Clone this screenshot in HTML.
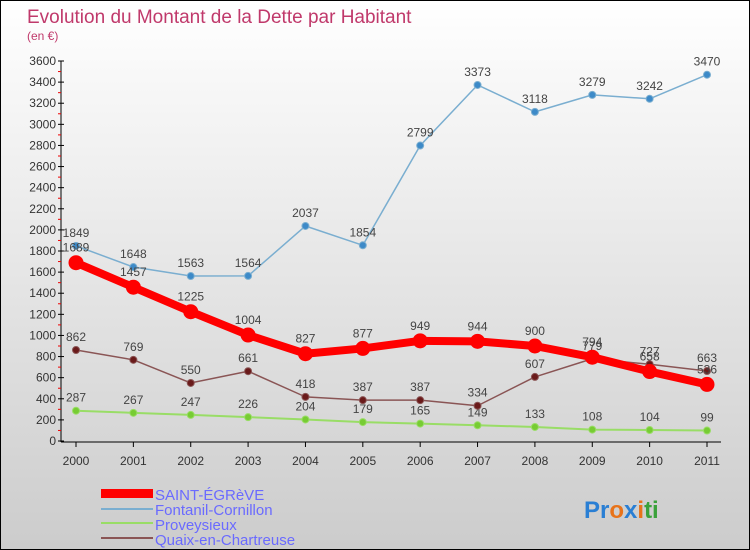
<!DOCTYPE html>
<html><head><meta charset="utf-8"><style>
body{margin:0}
#c{width:750px;height:550px;position:relative;box-sizing:border-box;border:1px solid #000;background:linear-gradient(#fff,#ccc);overflow:hidden;font-family:"Liberation Sans",sans-serif}
</style></head><body>
<div id="c">
<svg id="s" width="748" height="548" style="position:absolute;left:0;top:0">
<text x="26" y="22" font-size="19" fill="#c0396b">Evolution du Montant de la Dette par Habitant</text>
<text x="26" y="39" font-size="12" fill="#c0396b">(en €)</text>
<g id="axes"></g><g id="series"></g>
<g font-size="15" fill="#6a6aff">
<rect x="100" y="488" width="52" height="9" fill="#f00"/>
<text x="154" y="499">SAINT-ÉGRèVE</text>
<rect x="100" y="507" width="52" height="2" fill="#7aaed0"/>
<text x="154" y="514">Fontanil-Cornillon</text>
<rect x="100" y="521" width="52" height="2" fill="#99dd66"/>
<text x="154" y="529">Proveysieux</text>
<rect x="100" y="536" width="52" height="2" fill="#8a5555"/>
<text x="154" y="544">Quaix-en-Chartreuse</text>
</g>
<text x="583" y="517" font-size="24" font-weight="bold"><tspan fill="#2a7fd4">Pr</tspan><tspan fill="#e8731a">o</tspan><tspan fill="#2a7fd4">x</tspan><tspan fill="#e8731a">i</tspan><tspan fill="#3aa13a">ti</tspan></text>
</svg>
</div>
<script>
const years=["2000","2001","2002","2003","2004","2005","2006","2007","2008","2009","2010","2011"];
const yTicks=[0,200,400,600,800,1000,1200,1400,1600,1800,2000,2200,2400,2600,2800,3000,3200,3400,3600];
const saint=[1689,1457,1225,1004,827,877,949,944,900,794,658,536];
const fontanil=[1849,1648,1563,1564,2037,1854,2799,3373,3118,3279,3242,3470];
const provey=[287,267,247,226,204,179,165,149,133,108,104,99];
const quaix=[862,769,550,661,418,387,387,334,607,779,727,663];
const NS="http://www.w3.org/2000/svg";
const X=i=>75+i*(631/11), Y=v=>440-v*(380/3600);
function mk(t,a,p){const e=document.createElementNS(NS,t);for(const k in a)e.setAttribute(k,a[k]);p.appendChild(e);return e;}
const ax=document.getElementById('axes'), sg=document.getElementById('series');
let l=mk('line',{x1:60,y1:60,x2:60,y2:441,stroke:'#000'},ax);


l=mk('line',{x1:60,y1:441,x2:720,y2:441,stroke:'#000'},ax);


yTicks.forEach((v,i)=>{
 mk('line',{x1:57,y1:Y(v),x2:63,y2:Y(v),stroke:'#000'},ax);
 if(i<yTicks.length-1) mk('line',{x1:57,y1:Y(v+100),x2:60,y2:Y(v+100),stroke:'#e00'},ax);
 const t=mk('text',{x:55,y:Y(v)+4,'font-size':12,'text-anchor':'end',fill:'#333'},ax);t.textContent=v;
 
 
});
years.forEach((y,i)=>{
 mk('line',{x1:X(i),y1:441,x2:X(i),y2:446,stroke:'#000'},ax);
 const t=mk('text',{x:X(i),y:464,'font-size':12,'text-anchor':'middle',fill:'#333'},ax);t.textContent=y;
 
 
});
function series(d,name,color,w,r,fill){
 const g=mk('g',{},sg);
 
 
 const p=mk('polyline',{points:d.map((v,i)=>X(i)+','+Y(v)).join(' '),fill:'none',stroke:color,'stroke-width':w,'stroke-linejoin':'round'},g);
 
 
 d.forEach((v,i)=>{
  const c=mk('circle',{cx:X(i),cy:Y(v),r:r,fill:fill,stroke:color,'stroke-width':1},g);
  
  
  const t=mk('text',{x:X(i),y:Y(v)-9-(r>5?2:0),'font-size':12,'text-anchor':'middle',fill:'#444'},g);t.textContent=v;
  
  
 });
}
series(provey,'proveysieux','#99dd66',2,3.5,'#77cc33');
series(quaix,'quaix','#8a5555',1.5,3.5,'#6a1a1a');
series(fontanil,'fontanil','#7aaed0',1.5,3.5,'#3d8ac8');
series(saint,'saint-egreve','#f00',8,7,'#f00');
</script>
</body></html>
